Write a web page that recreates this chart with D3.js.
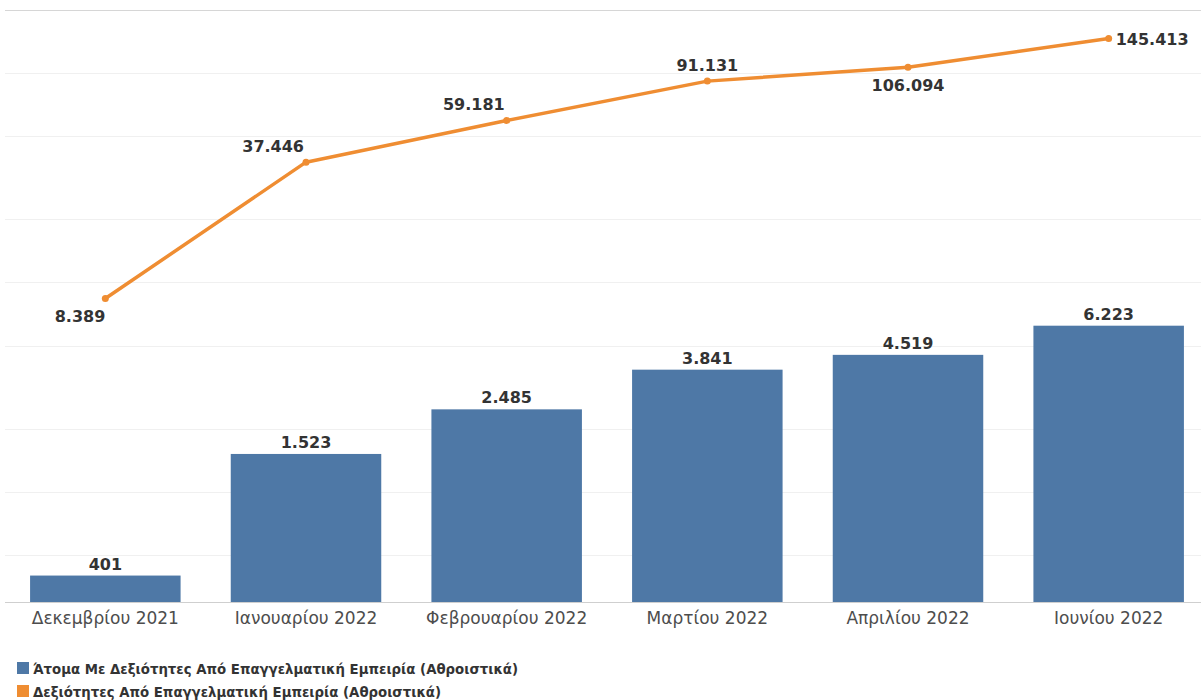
<!DOCTYPE html>
<html>
<head>
<meta charset="utf-8">
<script src="https://cdn.jsdelivr.net/npm/d3@7"></script>
<style>
  html, body { margin: 0; padding: 0; background: #fff; }
  svg { display: block; font-family: "DejaVu Sans", Verdana, sans-serif; }
</style>
</head>
<body>
<div id="chart"></div>
<script>
// Monthly cumulative totals: bars = people, line = skills. Both share one log axis.
const months = ["Δεκεμβρίου 2021", "Ιανουαρίου 2022", "Φεβρουαρίου 2022", "Μαρτίου 2022", "Απριλίου 2022", "Ιουνίου 2022"];
const people = [401, 1523, 2485, 3841, 4519, 6223];
const skills = [8389, 37446, 59181, 91131, 106094, 145413];
const gridTicks = [500, 1000, 2000, 5000, 10000, 20000, 50000, 100000, 200000];
const legendLabels = [
  "Άτομα Με Δεξιότητες Από Επαγγελματική Εμπειρία (Αθροιστικά)",
  "Δεξιότητες Από Επαγγελματική Εμπειρία (Αθροιστικά)"
];
// where each line label sits relative to its point
const skillLabelPlace = ["below-left", "above-left", "above-left", "above", "below", "right"];

const W = 1201, H = 700;
const BLUE = "#4e78a6", ORANGE = "#ef8d32";
const fmt = v => d3.format(",")(v).replace(/,/g, ".");

const svg = d3.select("#chart").append("svg").attr("width", W).attr("height", H);

const x = d3.scaleBand().domain(months).range([5, 1209]).paddingInner(0.25).paddingOuter(0.125);
const y = d3.scaleLog().domain([300, 200000]).range([602, 9.5]);

// gridlines (top one doubles as the plot border)
svg.append("g").selectAll("line").data(gridTicks).join("line")
    .attr("x1", 5).attr("x2", W)
    .attr("y1", d => Math.round(y(d)) + 0.5).attr("y2", d => Math.round(y(d)) + 0.5)
    .attr("stroke", (d, i) => i === gridTicks.length - 1 ? "#d6d6d6" : "#f0f0f0")
    .attr("stroke-width", 1);

// bars
svg.append("g").selectAll("rect").data(people).join("rect")
    .attr("x", (d, i) => x(months[i]))
    .attr("width", x.bandwidth())
    .attr("y", d => y(d))
    .attr("height", d => y.range()[0] - y(d))
    .attr("fill", BLUE);

// baseline + category axis
const xAxis = svg.append("g").attr("transform", `translate(0,${y.range()[0]})`)
    .call(d3.axisBottom(x).tickSize(0).tickPadding(10));
xAxis.select(".domain").attr("d", `M5,0.5H${W}`).attr("stroke", "#cfcfcf");
xAxis.selectAll("text")
    .attr("font-family", "DejaVu Sans, sans-serif")
    .attr("font-size", 17).attr("fill", "#4d4d4d");

// bar value labels
svg.append("g").selectAll("text").data(people).join("text")
    .attr("x", (d, i) => x(months[i]) + x.bandwidth() / 2)
    .attr("y", d => y(d) - 6)
    .attr("text-anchor", "middle")
    .attr("font-weight", "bold").attr("font-size", 16).attr("fill", "#333")
    .text(fmt);

// skills line
const cx = i => x(months[i]) + x.bandwidth() / 2;
const line = d3.line().x((d, i) => cx(i)).y(d => y(d));
svg.append("path").datum(skills)
    .attr("d", line).attr("fill", "none")
    .attr("stroke", ORANGE).attr("stroke-width", 3.5).attr("stroke-linejoin", "round");
svg.append("g").selectAll("circle").data(skills).join("circle")
    .attr("cx", (d, i) => cx(i)).attr("cy", d => y(d)).attr("r", 3.5).attr("fill", ORANGE);

const place = {
  "below-left": { dx: 0, dy: 24, anchor: "end" },
  "above-left": { dx: -2, dy: -10, anchor: "end" },
  "above": { dx: 0, dy: -10, anchor: "middle" },
  "below": { dx: 0, dy: 24, anchor: "middle" },
  "right": { dx: 7, dy: 6, anchor: "start" }
};
svg.append("g").selectAll("text").data(skills).join("text")
    .attr("x", (d, i) => cx(i) + place[skillLabelPlace[i]].dx)
    .attr("y", (d, i) => y(d) + place[skillLabelPlace[i]].dy)
    .attr("text-anchor", (d, i) => place[skillLabelPlace[i]].anchor)
    .attr("font-weight", "bold").attr("font-size", 16).attr("fill", "#333")
    .text(fmt);

// legend
const legend = svg.append("g").attr("transform", "translate(17,662)");
const li = legend.selectAll("g").data(legendLabels).join("g")
    .attr("transform", (d, i) => `translate(0,${i * 23})`);
li.append("rect").attr("width", 12).attr("height", 12).attr("fill", (d, i) => [BLUE, ORANGE][i]);
li.append("text").attr("x", 16).attr("y", 11.5)
    .attr("font-weight", "bold").attr("font-size", 13.3).attr("fill", "#333")
    .text(d => d);
</script>
</body>
</html>
